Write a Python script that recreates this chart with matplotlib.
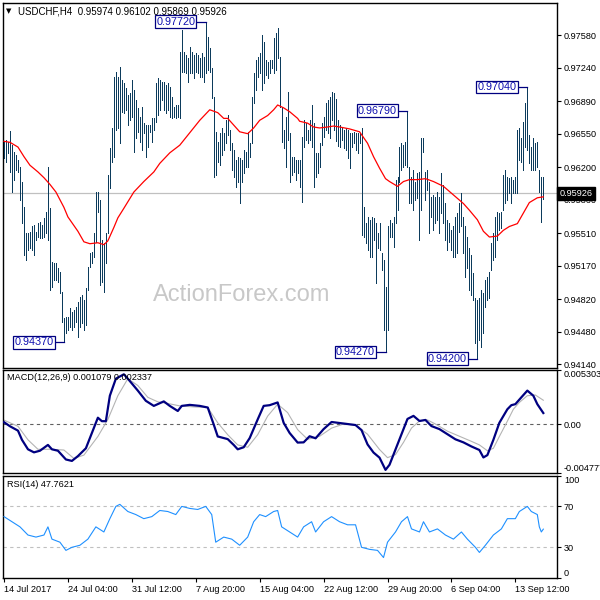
import matplotlib
matplotlib.use("Agg")
import matplotlib.pyplot as plt
from matplotlib.transforms import blended_transform_factory

plt.rcParams['font.family'] = ['Liberation Sans', 'DejaVu Sans']

# ---------------- data ----------------
symbol = "USDCHF,H4"
last_ohlc = [0.95974, 0.96102, 0.95869, 0.95926]
last_price = 0.95926

highs = [0.9647, 0.9648, 0.9646, 0.9658, 0.9643, 0.9636, 0.9633, 0.9628, 0.9620, 0.9604,
         0.9578, 0.9551, 0.9551, 0.9552, 0.9558, 0.9560, 0.9552, 0.9562, 0.9563, 0.9560,
         0.9567, 0.9573, 0.9620, 0.9577, 0.9521, 0.9520, 0.9520, 0.9515, 0.9510, 0.9490,
         0.9462, 0.9463, 0.9463, 0.9473, 0.9469, 0.9471, 0.9474, 0.9479, 0.9484, 0.9486,
         0.9481, 0.9494, 0.9516, 0.9530, 0.9531, 0.9551, 0.9594, 0.9594, 0.9586, 0.9544,
         0.9541, 0.9551, 0.9612, 0.9640, 0.9661, 0.9714, 0.9719, 0.9714, 0.9725, 0.9711,
         0.9708, 0.9703, 0.9695, 0.9698, 0.9711, 0.9701, 0.9690, 0.9682, 0.9672, 0.9683,
         0.9666, 0.9664, 0.9664, 0.9664, 0.9671, 0.9671, 0.9708, 0.9713, 0.9711, 0.9709,
         0.9709, 0.9706, 0.9708, 0.9704, 0.9693, 0.9683, 0.9685, 0.9685, 0.9740, 0.9763,
         0.9740, 0.9737, 0.9734, 0.9746, 0.9740, 0.9737, 0.9739, 0.9737, 0.9734, 0.9739,
         0.9735, 0.9772, 0.9756, 0.9745, 0.9724, 0.9693, 0.9657, 0.9646, 0.9656, 0.9661,
         0.9656, 0.9669, 0.9675, 0.9659, 0.9645, 0.9638, 0.9628, 0.9631, 0.9630, 0.9628,
         0.9638, 0.9636, 0.9657, 0.9645, 0.9693, 0.9718, 0.9732, 0.9735, 0.9739, 0.9758,
         0.9751, 0.9732, 0.9730, 0.9732, 0.9732, 0.9755, 0.9760, 0.9765, 0.9735, 0.9683,
         0.9659, 0.9672, 0.9699, 0.9656, 0.9631, 0.9631, 0.9628, 0.9628, 0.9628, 0.9652,
         0.9669, 0.9666, 0.9659, 0.9669, 0.9685, 0.9666, 0.9635, 0.9635, 0.9645, 0.9666,
         0.9672, 0.9687, 0.9690, 0.9693, 0.9699, 0.9698, 0.9691, 0.9669, 0.9664, 0.9662,
         0.9659, 0.9661, 0.9659, 0.9656, 0.9656, 0.9657, 0.9656, 0.9656, 0.9656, 0.9661,
         0.9578, 0.9562, 0.9568, 0.9565, 0.9568, 0.9567, 0.9562, 0.9551, 0.9562, 0.9530,
         0.9523, 0.9495, 0.9558, 0.9565, 0.9562, 0.9568, 0.9607, 0.9610, 0.9641, 0.9645,
         0.9643, 0.9646, 0.9679, 0.9620, 0.9610, 0.9617, 0.9604, 0.9614, 0.9615, 0.9650,
         0.9651, 0.9615, 0.9617, 0.9605, 0.9589, 0.9591, 0.9589, 0.9594, 0.9589, 0.9614,
         0.9601, 0.9583, 0.9565, 0.9562, 0.9554, 0.9558, 0.9568, 0.9572, 0.9583, 0.9593,
         0.9568, 0.9558, 0.9547, 0.9536, 0.9528, 0.9509, 0.9483, 0.9481, 0.9483, 0.9492,
         0.9488, 0.9502, 0.9505, 0.9510, 0.9541, 0.9551, 0.9568, 0.9573, 0.9572, 0.9573,
         0.9612, 0.9617, 0.9610, 0.9609, 0.9610, 0.9607, 0.9610, 0.9659, 0.9661, 0.9650,
         0.9667, 0.9687, 0.9704, 0.9654, 0.9641, 0.9650, 0.9645, 0.9646, 0.9617, 0.9610,
         0.96102]

lows = [0.9630, 0.9625, 0.9635, 0.9615, 0.9594, 0.9607, 0.9617, 0.9615, 0.9586, 0.9562,
        0.9528, 0.9523, 0.9533, 0.9536, 0.9533, 0.9528, 0.9544, 0.9547, 0.9546, 0.9546,
        0.9547, 0.9551, 0.9544, 0.9492, 0.9495, 0.9502, 0.9502, 0.9500, 0.9488, 0.9458,
        0.9437, 0.9447, 0.9450, 0.9453, 0.9450, 0.9453, 0.9458, 0.9443, 0.9453, 0.9457,
        0.9450, 0.9455, 0.9492, 0.9516, 0.9520, 0.9526, 0.9542, 0.9573, 0.9497, 0.9500,
        0.9490, 0.9520, 0.9551, 0.9598, 0.9625, 0.9631, 0.9659, 0.9661, 0.9645, 0.9678,
        0.9677, 0.9680, 0.9664, 0.9669, 0.9672, 0.9636, 0.9650, 0.9657, 0.9646, 0.9638,
        0.9656, 0.9631, 0.9641, 0.9657, 0.9646, 0.9659, 0.9667, 0.9675, 0.9680, 0.9690,
        0.9680, 0.9677, 0.9680, 0.9672, 0.9671, 0.9672, 0.9671, 0.9672, 0.9671, 0.9719,
        0.9719, 0.9718, 0.9709, 0.9718, 0.9718, 0.9713, 0.9719, 0.9718, 0.9714, 0.9714,
        0.9709, 0.9718, 0.9722, 0.9719, 0.9692, 0.9610, 0.9612, 0.9625, 0.9622, 0.9633,
        0.9638, 0.9645, 0.9654, 0.9638, 0.9617, 0.9610, 0.9599, 0.9604, 0.9583, 0.9604,
        0.9614, 0.9620, 0.9620, 0.9631, 0.9645, 0.9687, 0.9701, 0.9714, 0.9718, 0.9701,
        0.9708, 0.9716, 0.9713, 0.9718, 0.9724, 0.9718, 0.9722, 0.9734, 0.9683, 0.9646,
        0.9640, 0.9620, 0.9648, 0.9604, 0.9612, 0.9615, 0.9607, 0.9614, 0.9599, 0.9584,
        0.9641, 0.9648, 0.9645, 0.9648, 0.9641, 0.9599, 0.9610, 0.9614, 0.9620, 0.9643,
        0.9652, 0.9659, 0.9656, 0.9650, 0.9669, 0.9659, 0.9647, 0.9642, 0.9641, 0.9648,
        0.9640, 0.9638, 0.9630, 0.9619, 0.9641, 0.9645, 0.9638, 0.9635, 0.9645, 0.9549,
        0.9547, 0.9541, 0.9533, 0.9526, 0.9526, 0.9544, 0.9499, 0.9536, 0.9533, 0.9513,
        0.9450, 0.9427, 0.9450, 0.9547, 0.9547, 0.9537, 0.9562, 0.9575, 0.9604, 0.9617,
        0.9620, 0.9622, 0.9620, 0.9583, 0.9583, 0.9575, 0.9586, 0.9588, 0.9544, 0.9575,
        0.9636, 0.9586, 0.9596, 0.9551, 0.9568, 0.9554, 0.9562, 0.9565, 0.9551, 0.9572,
        0.9562, 0.9544, 0.9533, 0.9542, 0.9533, 0.9526, 0.9526, 0.9530, 0.9552, 0.9558,
        0.9530, 0.9505, 0.9515, 0.9492, 0.9486, 0.9481, 0.9436, 0.9420, 0.9439, 0.9432,
        0.9447, 0.9474, 0.9481, 0.9483, 0.9513, 0.9523, 0.9526, 0.9544, 0.9554, 0.9556,
        0.9575, 0.9583, 0.9586, 0.9593, 0.9583, 0.9593, 0.9593, 0.9593, 0.9628, 0.9625,
        0.9617, 0.9641, 0.9638, 0.9624, 0.9617, 0.9617, 0.9617, 0.9620, 0.9594, 0.9563,
        0.95869]

ma_idx = [0, 3, 7, 10, 13, 17, 20, 23, 26, 30, 32, 37, 40, 43, 47, 50, 52, 55, 57, 60,
          65, 70, 75, 78, 83, 88, 93, 98, 103, 107, 110, 112, 115, 118, 122, 125, 128, 132,
          135, 137, 140, 143, 147, 148, 152, 155, 158, 162, 165, 168, 173, 178, 182, 185,
          188, 191, 193, 197, 200, 203, 207, 211, 215, 220, 225, 230, 233, 237, 240, 243,
          247, 250, 253, 257, 260, 263, 267, 270]
ma_val = [0.9647, 0.9646, 0.9641, 0.9631, 0.9622, 0.9615, 0.9609, 0.9602, 0.9594, 0.9578,
          0.9568, 0.9553, 0.9542, 0.9540, 0.9541, 0.9539, 0.9543, 0.9557, 0.9567, 0.9577,
          0.9594, 0.9605, 0.9615, 0.9624, 0.9635, 0.9643, 0.9656, 0.9669, 0.9680, 0.9677,
          0.9671, 0.9671, 0.9664, 0.9657, 0.9655, 0.9661, 0.9669, 0.9674, 0.9680, 0.9685,
          0.9682, 0.9678, 0.9671, 0.9668, 0.9666, 0.9662, 0.9661, 0.9662, 0.9663, 0.9662,
          0.9660, 0.9657, 0.9645, 0.9631, 0.9619, 0.9608, 0.9605, 0.9600, 0.9605, 0.9607,
          0.9607, 0.9608, 0.9605, 0.9600, 0.9591, 0.9582, 0.9575, 0.9565, 0.9553, 0.9547,
          0.9548, 0.9554, 0.9558, 0.9561, 0.9572, 0.9583, 0.9588, 0.9589]

macd_idx = [0, 3, 7, 9, 12, 15, 18, 22, 24, 27, 31, 34, 37, 41, 43, 47, 49, 51, 53, 56,
            60, 62, 67, 71, 75, 80, 83, 87, 89, 93, 98, 102, 105, 107, 112, 115, 117, 120,
            123, 127, 130, 133, 137, 140, 143, 147, 150, 153, 156, 160, 164, 168, 172, 176,
            179, 182, 185, 188, 191, 193, 196, 199, 202, 205, 208, 211, 214, 218, 222, 226,
            230, 234, 238, 240, 242, 245, 248, 252, 254, 256, 259, 262, 265, 267, 270]
macd_val = [0.00018, -0.00022, -0.00065, -0.00155, -0.00248, -0.00278, -0.00262, -0.00205,
            -0.00248, -0.00262, -0.00348, -0.00362, -0.00315, -0.00238, -0.00138, 0.00062,
            0.00028, 0.00028, 0.00278, 0.00445, 0.00488, 0.00445, 0.00328, 0.00228, 0.00178,
            0.00222, 0.00178, 0.00128, 0.00178, 0.00188, 0.00178, 0.00162, -0.00005, -0.00122,
            -0.00148, -0.00205, -0.00248, -0.00228, -0.00138, 0.00045, 0.00178, 0.00185,
            0.00212, 0.00012, -0.00088, -0.00182, -0.00180, -0.00120, -0.00140, -0.00050,
            0.00020, 0.00010, 0.00000, -0.00010, -0.00060, -0.00200, -0.00280, -0.00330,
            -0.00450, -0.00400, -0.00250, -0.00100, 0.00050, 0.00080, 0.00030, 0.00040,
            -0.00020, -0.00050, -0.00100, -0.00150, -0.00180, -0.00220, -0.00255, -0.00328,
            -0.00305, -0.00155, 0.00012, 0.00145, 0.00185, 0.00195, 0.00262, 0.00328,
            0.00278, 0.00195, 0.001079]

sig_idx = [0, 7, 12, 17, 23, 30, 35, 40, 47, 52, 57, 62, 67, 72, 77, 82, 88, 95, 102, 107,
           112, 117, 122, 127, 132, 137, 142, 147, 152, 158, 164, 170, 176, 182, 188, 192,
           196, 200, 204, 208, 212, 216, 222, 228, 234, 238, 242, 245, 248, 252, 255, 258,
           262, 266, 270]
sig_val = [0.00038, -0.00022, -0.00155, -0.00248, -0.00248, -0.00255, -0.00338, -0.00305,
           -0.00122, 0.00045, 0.00278, 0.00445, 0.00378, 0.00262, 0.00218, 0.00202, 0.00178,
           0.00168, 0.00162, 0.00012, -0.00105, -0.00205, -0.00228, -0.00105, 0.00078,
           0.00195, 0.00112, -0.00055, -0.00150, -0.00120, -0.00040, 0.00000, -0.00010,
           -0.00100, -0.00250, -0.00330, -0.00300, -0.00180, -0.00040, 0.00030, 0.00040,
           0.00000, -0.00070, -0.00120, -0.00170, -0.00205, -0.00262, -0.00238, -0.00122,
           0.00028, 0.00145, 0.00212, 0.00278, 0.00285, 0.002337]

rsi_idx = [0, 4, 8, 12, 16, 20, 22, 24, 28, 31, 34, 38, 42, 46, 50, 53, 56, 58, 62, 66,
           70, 74, 78, 82, 86, 89, 93, 97, 101, 104, 106, 110, 114, 118, 122, 125, 128,
           131, 135, 137, 139, 143, 147, 150, 154, 156, 160, 164, 168, 172, 176, 179, 183,
           187, 190, 192, 196, 199, 202, 204, 208, 210, 213, 217, 221, 225, 229, 232, 236,
           238, 241, 245, 249, 252, 256, 258, 262, 264, 267, 268, 269, 270]
rsi_val = [60, 55, 50, 42, 40, 42, 50, 38, 35, 27, 30, 32, 38, 50, 45, 58, 70, 72, 65, 62,
           58, 60, 66, 65, 62, 70, 68, 67, 70, 62, 35, 40, 38, 32, 40, 55, 62, 60, 65, 66,
           50, 45, 40, 50, 55, 45, 55, 60, 55, 52, 52, 30, 28, 27, 20, 35, 45, 55, 60, 48,
           45, 55, 45, 48, 42, 38, 45, 38, 30, 25, 32, 42, 48, 58, 58, 65, 70, 65, 62, 50,
           45, 47.7621]

date_idx = [0, 32, 64, 96, 128, 160, 192, 224, 256]
date_labels = ["14 Jul 2017", "24 Jul 04:00", "31 Jul 12:00", "7 Aug 20:00", "15 Aug 04:00",
               "22 Aug 12:00", "29 Aug 20:00", "6 Sep 04:00", "13 Sep 12:00"]
price_ticks = [0.97580, 0.97240, 0.96890, 0.96550, 0.96200, 0.95860, 0.95510, 0.95170,
               0.94820, 0.94480, 0.94140]

swing_idx = [101, 30, 191, 202, 237, 262]
swing_price = [0.97720, 0.94370, 0.94270, 0.96790, 0.94200, 0.97040]

macd_top, macd_bottom = 0.005303, -0.004777

# ---------------- figure ----------------
fig = plt.figure(figsize=(6, 6), dpi=100, facecolor='white')
W, H = 600.0, 600.0
def rect(l, t, r, b):
    return [l / W, 1 - b / H, (r - l) / W, (b - t) / H]

ax = fig.add_axes(rect(3, 3, 557, 368))
axm = fig.add_axes(rect(3, 370, 557, 472.7))
axr = fig.add_axes(rect(3, 475.7, 557, 578))

xmin, xmax = -0.5, 276.85
bar_color = '#0c3b5c'
lab_fs = 6.6

for a in (ax, axm, axr):
    a.set_xlim(xmin, xmax)
    a.set_facecolor('white')
    for s in a.spines.values():
        s.set_linewidth(1.0)
        s.set_color('black')
    a.yaxis.tick_right()
    a.tick_params(axis='y', direction='out', length=3, width=0.8, pad=2,
                  labelsize=lab_fs, colors='black')
    a.tick_params(axis='x', bottom=False, labelbottom=False)

# main price panel
idx = list(range(len(highs)))
ax.vlines(idx, lows, highs, color=bar_color, linewidth=0.5, antialiased=False, zorder=3)
ax.plot(ma_idx, ma_val, color='#ff0000', linewidth=0.9, zorder=4)
ax.axhline(last_price, color='#c0c0c0', linewidth=0.9, zorder=2)
ax.set_ylim(0.94101, 0.97916)
ax.set_yticks(price_ticks)
ax.set_yticklabels([f"{p:.5f}" for p in price_ticks])

tr = blended_transform_factory(ax.transAxes, ax.transData)
ax.text(1.004, last_price, f"{last_price:.5f}", transform=tr, ha='left', va='center',
        fontsize=lab_fs, color='white', zorder=10, clip_on=False,
        bbox=dict(boxstyle='square,pad=0.25', facecolor='black', edgecolor='black'))

ax.text(0.431, 0.20, "ActionForex.com", transform=ax.transAxes, ha='center', va='center',
        fontsize=17, color='#c8c8c8', zorder=1)

for si, sp in zip(swing_idx, swing_price):
    x_box = si - 5.3
    ax.plot([x_box, si], [sp, sp], color='#000080', linewidth=0.9, zorder=5)
    ax.text(x_box, sp, f"{sp:.5f}", ha='right', va='center', fontsize=7.8,
            color='#1010b0', zorder=6,
            bbox=dict(boxstyle='square,pad=0.12', facecolor='white', edgecolor='#000080',
                      linewidth=0.9))

fig.text(9 / W, 1 - 11 / H, "\u25bc", fontsize=5, ha='center', va='center',
         family=['DejaVu Sans'])
fig.text(18 / W, 1 - 11 / H, symbol + "  " + " ".join(f"{v:.5f}" for v in last_ohlc),
         fontsize=7, ha='left', va='center', color='black')

# MACD panel
axm.axhline(0, color='#606060', linewidth=0.8, linestyle=(0, (3, 3)), zorder=1)
axm.plot(sig_idx, sig_val, color='#b4b4b4', linewidth=0.8, zorder=2)
axm.plot(macd_idx, macd_val, color='#000080', linewidth=1.6, zorder=3)
axm.set_ylim(macd_bottom, macd_top)
axm.set_yticks([macd_top, 0, macd_bottom])
mlabels = axm.set_yticklabels([f"{macd_top:.6f}", "0.00", f"{macd_bottom:.6f}"])
mlabels[0].set_va('top')
mlabels[2].set_va('bottom')
axm.text(4 / 554, 0.93, "MACD(12,26,9) %.6f %.6f" % (macd_val[-1], sig_val[-1]),
         transform=axm.transAxes, ha='left', va='center', fontsize=lab_fs, color='black')

# RSI panel
for lvl in (70, 30):
    axr.axhline(lvl, color='#c0c0c0', linewidth=0.8, linestyle=(0, (3, 3)), zorder=1)
axr.plot(rsi_idx, rsi_val, color='#1e90ff', linewidth=0.8, zorder=3)
axr.set_ylim(0, 100)
axr.set_yticks([100, 70, 30, 0])
rlabels = axr.set_yticklabels(["100", "70", "30", "0"])
rlabels[0].set_va('top')
rlabels[3].set_va('bottom')
axr.text(4 / 554, 0.915, "RSI(14) %.4f" % rsi_val[-1], transform=axr.transAxes,
         ha='left', va='center', fontsize=lab_fs, color='black')

axr.tick_params(axis='x', bottom=True, labelbottom=True, direction='out', length=3,
                width=0.8, pad=2, labelsize=lab_fs)
axr.set_xticks(date_idx)
xl = axr.set_xticklabels(date_labels)
for t in xl:
    t.set_ha('left')

fig.savefig("out.png", dpi=100, facecolor='white')
